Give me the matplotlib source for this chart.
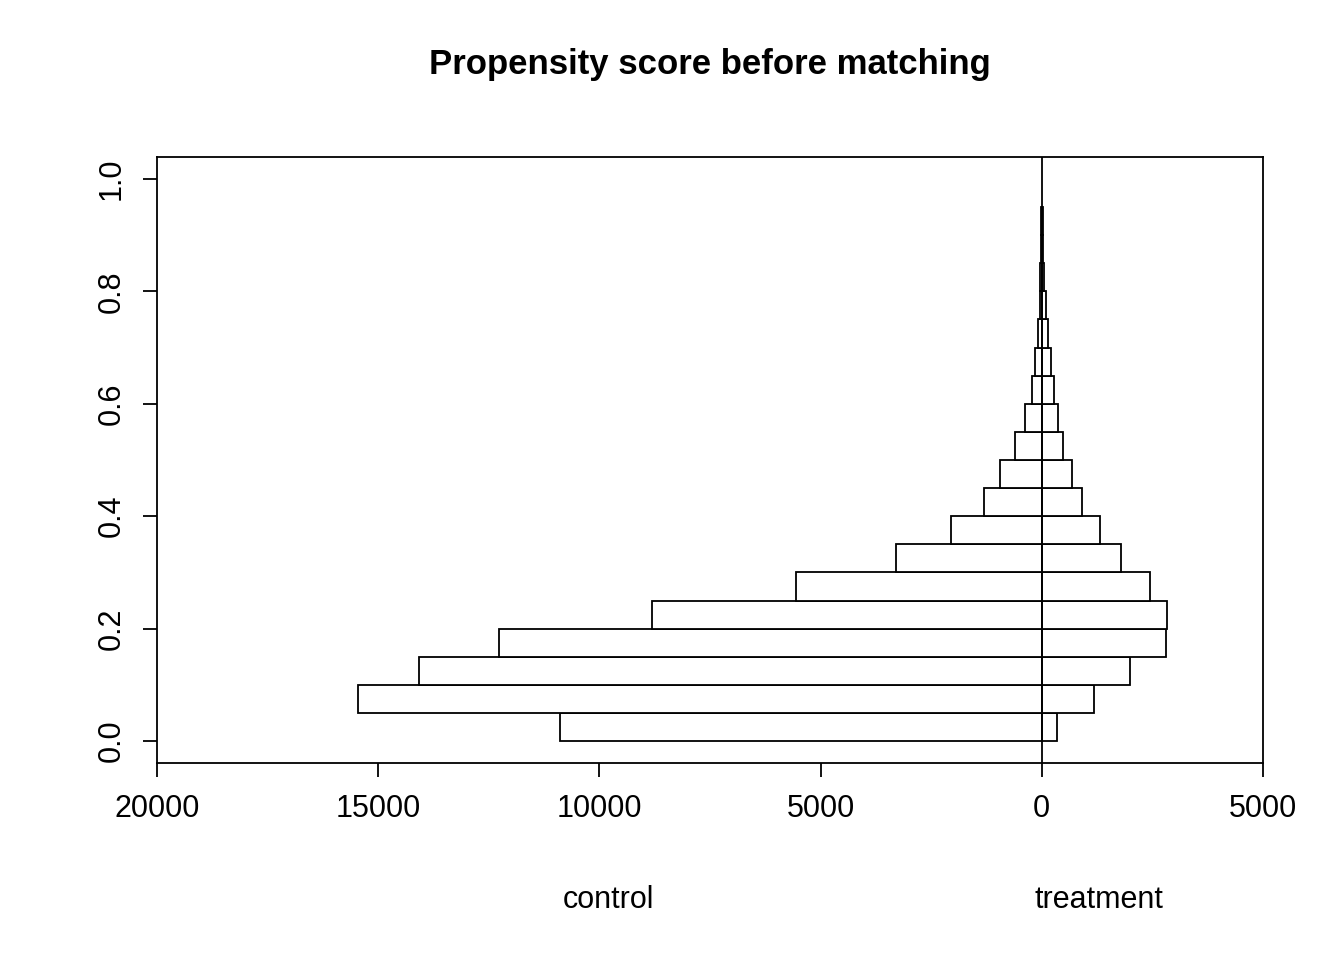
import matplotlib
matplotlib.use("Agg")
import matplotlib.pyplot as plt
import numpy as np

plt.rcParams['font.family'] = ['Liberation Sans', 'DejaVu Sans']

# propensity score bins (width 0.05)
bin_lo = np.arange(19) * 0.05
control = [10900, 15450, 14080, 12270, 8820, 5560, 3300, 2060, 1310,
           950, 610, 385, 225, 160, 90, 50, 30, 20, 15]
treatment = [340, 1175, 1990, 2800, 2825, 2440, 1790, 1310, 905,
             680, 475, 360, 270, 205, 135, 90, 50, 30, 20]

fig = plt.figure(figsize=(13.44, 9.6), dpi=100)
ax = fig.add_axes([0.1168, 0.2052, 0.8229, 0.6313])

ax.barh(bin_lo, [-c for c in control], height=0.05, align='edge',
        facecolor='white', edgecolor='black', lw=1.3)
ax.barh(bin_lo, treatment, height=0.05, align='edge',
        facecolor='white', edgecolor='black', lw=1.3)
ax.axvline(0, color='black', lw=1.3)

ax.set_xlim(-20000, 5000)
ax.set_ylim(-0.039, 1.039)
xt = [-20000, -15000, -10000, -5000, 0, 5000]
ax.set_xticks(xt)
ax.set_xticklabels([str(abs(v)) for v in xt], fontsize=22)
ax.set_yticks([0.0, 0.2, 0.4, 0.6, 0.8, 1.0])
ax.set_yticklabels(["0.0", "0.2", "0.4", "0.6", "0.8", "1.0"], fontsize=22,
                   rotation=90, va='center')
ax.tick_params(length=10, width=1.3, pad=12)
for s in ax.spines.values():
    s.set_linewidth(1.3)

ax.set_title("Propensity score before matching", fontsize=25, fontweight='bold', pad=60)
fig.text(608 / 1344, 1 - 900 / 960, "control", fontsize=22, ha='center', va='center')
fig.text(1099 / 1344, 1 - 900 / 960, "treatment", fontsize=22, ha='center', va='center')

fig.savefig("out.png", dpi=100)
